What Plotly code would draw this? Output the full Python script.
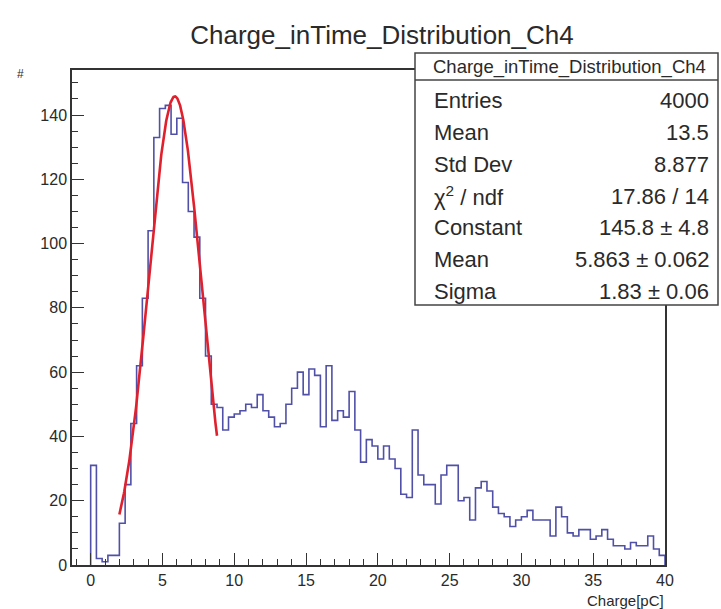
import numpy as np
import plotly.graph_objects as go

# ---------------- data ----------------
bin_start = 0.0
bin_width = 0.4
counts = [
    31, 2, 1, 3, 3, 13, 25, 44, 62, 83,
    104, 133, 142, 143, 134, 139, 119, 110, 102, 83,
    65, 50, 49, 42, 46, 47, 48, 50, 49, 53,
    48, 46, 43, 44, 50, 55, 60, 53, 61, 59,
    43, 62, 45, 48, 46, 54, 42, 32, 39, 37,
    33, 37, 33, 30, 22, 21, 42, 28, 25, 25,
    19, 28, 31, 31, 20, 21, 14, 24, 26, 23,
    18, 16, 15, 12, 14, 15, 17, 14, 14, 14,
    9, 18, 15, 10, 9, 11, 11, 8, 9, 11,
    8, 6, 6, 5, 7, 6, 6, 9, 5, 3,
]

fit_constant = 145.8
fit_mean = 5.863
fit_sigma = 1.83
fit_range = [2.0, 8.8]

title_text = "Charge_inTime_Distribution_Ch4"
x_title = "Charge[pC]"
y_title = "#"

stat_labels = ["Entries", "Mean", "Std Dev", "\u03c7<sup>2</sup> / ndf",
               "Constant", "Mean", "Sigma"]
stat_values = ["4000", "13.5", "8.877", "17.86 / 14",
               "145.8 \u00b1 4.8", "5.863 \u00b1 0.062", "1.83 \u00b1 0.06"]

# ---------------- geometry helpers (pixels -> paper) ----------------
W, H = 721, 609
L, R, T, B = 72, 665, 70, 565


def px(x):
    return (x - L) / (R - L)


def py(y):
    return (B - y) / (B - T)


FONT = "Liberation Sans, Arial, Helvetica, sans-serif"
TXT = "#2a2a2a"

# ---------------- histogram as step line ----------------
n = len(counts)
edges = [bin_start + bin_width * i for i in range(n + 1)]
xs = [edges[0]] + edges[:n] + [edges[n]]
ys = [0] + counts + [0]

fig = go.Figure()
fig.add_trace(go.Scatter(
    x=xs, y=ys, mode="lines", line=dict(color="#5050a8", width=1.6, shape="hv"),
    hoverinfo="skip", showlegend=False, cliponaxis=True,
))

xf = np.linspace(fit_range[0], fit_range[1], 300)
yf = fit_constant * np.exp(-0.5 * ((xf - fit_mean) / fit_sigma) ** 2)
fig.add_trace(go.Scatter(
    x=xf, y=yf, mode="lines", line=dict(color="#e0202c", width=2.6),
    hoverinfo="skip", showlegend=False,
))

axis_common = dict(
    showline=True, linecolor="#333333", linewidth=1.5, mirror=True,
    ticks="inside", tickcolor="#333333", tickwidth=1.2, ticklen=12,
    showgrid=False, zeroline=False,
    tickfont=dict(family=FONT, size=16, color=TXT),
)

fig.update_layout(
    width=W, height=H,
    margin=dict(l=L, r=W - R, t=T, b=H - B),
    paper_bgcolor="white", plot_bgcolor="white",
    title=dict(text=title_text, x=382 / W, xref="container", xanchor="center",
               y=1 - 35 / H, yref="container", yanchor="middle",
               font=dict(family=FONT, size=26, color=TXT)),
    xaxis=dict(range=[-1.3, 40], tickmode="linear", tick0=0, dtick=5,
               minor=dict(ticks="inside", ticklen=6, tick0=0, dtick=1,
                          tickcolor="#333333", tickwidth=1.1),
               **axis_common),
    yaxis=dict(range=[0, 154], tickmode="linear", tick0=0, dtick=20,
               minor=dict(ticks="inside", ticklen=6, tick0=0, dtick=5,
                          tickcolor="#333333", tickwidth=1.1),
               **axis_common),
)

shapes = []
annotations = []

# stats box
bx0, bx1, by0, by1, hy = 415, 718, 305, 53, 80
shapes.append(dict(type="rect", xref="paper", yref="paper",
                   x0=px(bx0), x1=px(bx1), y0=py(by0), y1=py(by1),
                   line=dict(color="#444444", width=1.5), fillcolor="white",
                   layer="above"))
shapes.append(dict(type="line", xref="paper", yref="paper",
                   x0=px(bx0), x1=px(bx1), y0=py(hy), y1=py(hy),
                   line=dict(color="#444444", width=1.5), layer="above"))
annotations.append(dict(text=title_text, xref="paper", yref="paper",
                        x=px(569), y=py(66.5), xanchor="center", yanchor="middle",
                        showarrow=False, font=dict(family=FONT, size=18.5, color=TXT)))
row0, drow = 101, 31.67
for i, (lab, val) in enumerate(zip(stat_labels, stat_values)):
    yy = py(row0 + drow * i)
    annotations.append(dict(text=lab, xref="paper", yref="paper", x=px(432), y=yy,
                            xanchor="left", yanchor="middle", showarrow=False,
                            font=dict(family=FONT, size=22, color=TXT)))
    annotations.append(dict(text=val, xref="paper", yref="paper", x=px(711), y=yy,
                            xanchor="right", yanchor="middle", showarrow=False,
                            font=dict(family=FONT, size=22, color=TXT)))

# axis titles
annotations.append(dict(text=y_title, xref="paper", yref="paper", x=px(20), y=py(74),
                        xanchor="center", yanchor="middle", showarrow=False,
                        font=dict(family=FONT, size=12, color=TXT)))
annotations.append(dict(text=x_title, xref="paper", yref="paper", x=px(666), y=py(600),
                        xanchor="right", yanchor="middle", showarrow=False,
                        font=dict(family=FONT, size=15, color=TXT)))

fig.update_layout(shapes=shapes, annotations=annotations)
fig.write_html("out.html")
